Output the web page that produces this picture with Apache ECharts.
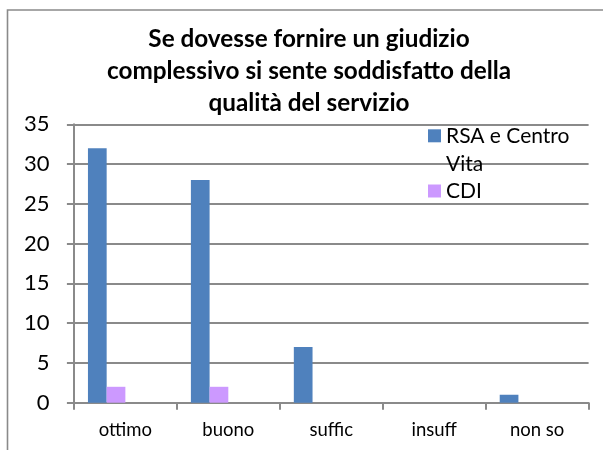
<!DOCTYPE html>
<html>
<head>
<meta charset="utf-8">
<script src="https://cdn.jsdelivr.net/npm/echarts@6/dist/echarts.min.js"></script>
<style>
html,body{margin:0;padding:0;background:#fff;overflow:hidden;}
#chart{width:603px;height:450px;}
</style>
</head>
<body>
<div id="chart"></div>
<script>
var titleLines = ['Se dovesse fornire un giudizio', 'complessivo si sente soddisfatto della', 'qualità del servizio'];
var categories = ['ottimo', 'buono', 'suffic', 'insuff', 'non so'];
var seriesNames = ['RSA e Centro Vita', 'CDI'];
var rsaValues = [32, 28, 7, 0, 1];
var cdiValues = [2, 2, 0, 0, 0];
var yTicks = { min: 0, max: 35, interval: 5 };

var gridColor = '#8a8a8a';
var chart = echarts.init(document.getElementById('chart'), null, { renderer: 'canvas' });

chart.setOption({
  animation: false,
  backgroundColor: '#ffffff',
  graphic: [{
    type: 'rect',
    shape: { x: 7.5, y: 10, width: 1000, height: 1000 },
    style: { fill: 'none', stroke: gridColor, lineWidth: 1.6 },
    silent: true
  }],
  title: {
    text: titleLines.join('\n'),
    left: 309,
    top: 23.5,
    padding: 0,
    textAlign: 'center',
    textStyle: {
      fontFamily: 'Lato',
      fontWeight: 'bold',
      fontSize: 24.3,
      lineHeight: 32,
      color: '#000'
    }
  },
  legend: {
    orient: 'vertical',
    left: 428,
    top: 121.5,
    padding: 0,
    itemGap: -16,
    itemWidth: 13,
    itemHeight: 57,
    selectedMode: false,
    data: [
      { name: seriesNames[0], icon: 'path://M0,7.8L13,7.8L13,20.8L0,20.8Z M0,0L0,0 M13,57L13,57' },
      { name: seriesNames[1], icon: 'path://M0,22L13,22L13,35L0,35Z M0,0L0,0 M13,57L13,57' }
    ],
    formatter: function (n) { return n === 'RSA e Centro Vita' ? 'RSA e Centro\nVita' : n; },
    textStyle: {
      fontFamily: 'Lato',
      fontSize: 21,
      lineHeight: 28.5,
      color: '#000'
    }
  },
  grid: {
    left: 73.9,
    right: 14.4,
    top: 124.3,
    bottom: 47.3,
    containLabel: false
  },
  xAxis: {
    type: 'category',
    data: categories,
    boundaryGap: true,
    axisLine: { show: true, lineStyle: { color: gridColor, width: 2 } },
    axisTick: { show: true, length: 7, lineStyle: { color: gridColor, width: 2 } },
    axisLabel: { margin: 18, fontFamily: 'Lato', fontSize: 18.5, color: '#000' },
    splitLine: { show: false }
  },
  yAxis: {
    type: 'value',
    min: yTicks.min,
    max: yTicks.max,
    interval: yTicks.interval,
    axisLine: { show: true, lineStyle: { color: gridColor, width: 2 } },
    axisTick: { show: true, length: 7, lineStyle: { color: gridColor, width: 2 } },
    axisLabel: { margin: 24.5, fontFamily: 'Lato', fontSize: 22, color: '#000' },
    splitLine: { show: true, lineStyle: { color: gridColor, width: 2 } }
  },
  series: [
    { name: seriesNames[0], type: 'bar', data: rsaValues, barGap: '0%', barCategoryGap: '27.3%',
      itemStyle: { color: '#4F81BD' } },
    { name: seriesNames[1], type: 'bar', data: cdiValues, barGap: '0%', barCategoryGap: '27.3%',
      itemStyle: { color: '#CC99FF' } },
    { name: 'placeholder3', type: 'bar', data: [], barGap: '0%', barCategoryGap: '27.3%' },
    { name: 'placeholder4', type: 'bar', data: [], barGap: '0%', barCategoryGap: '27.3%' }
  ]
});
</script>
</body>
</html>
